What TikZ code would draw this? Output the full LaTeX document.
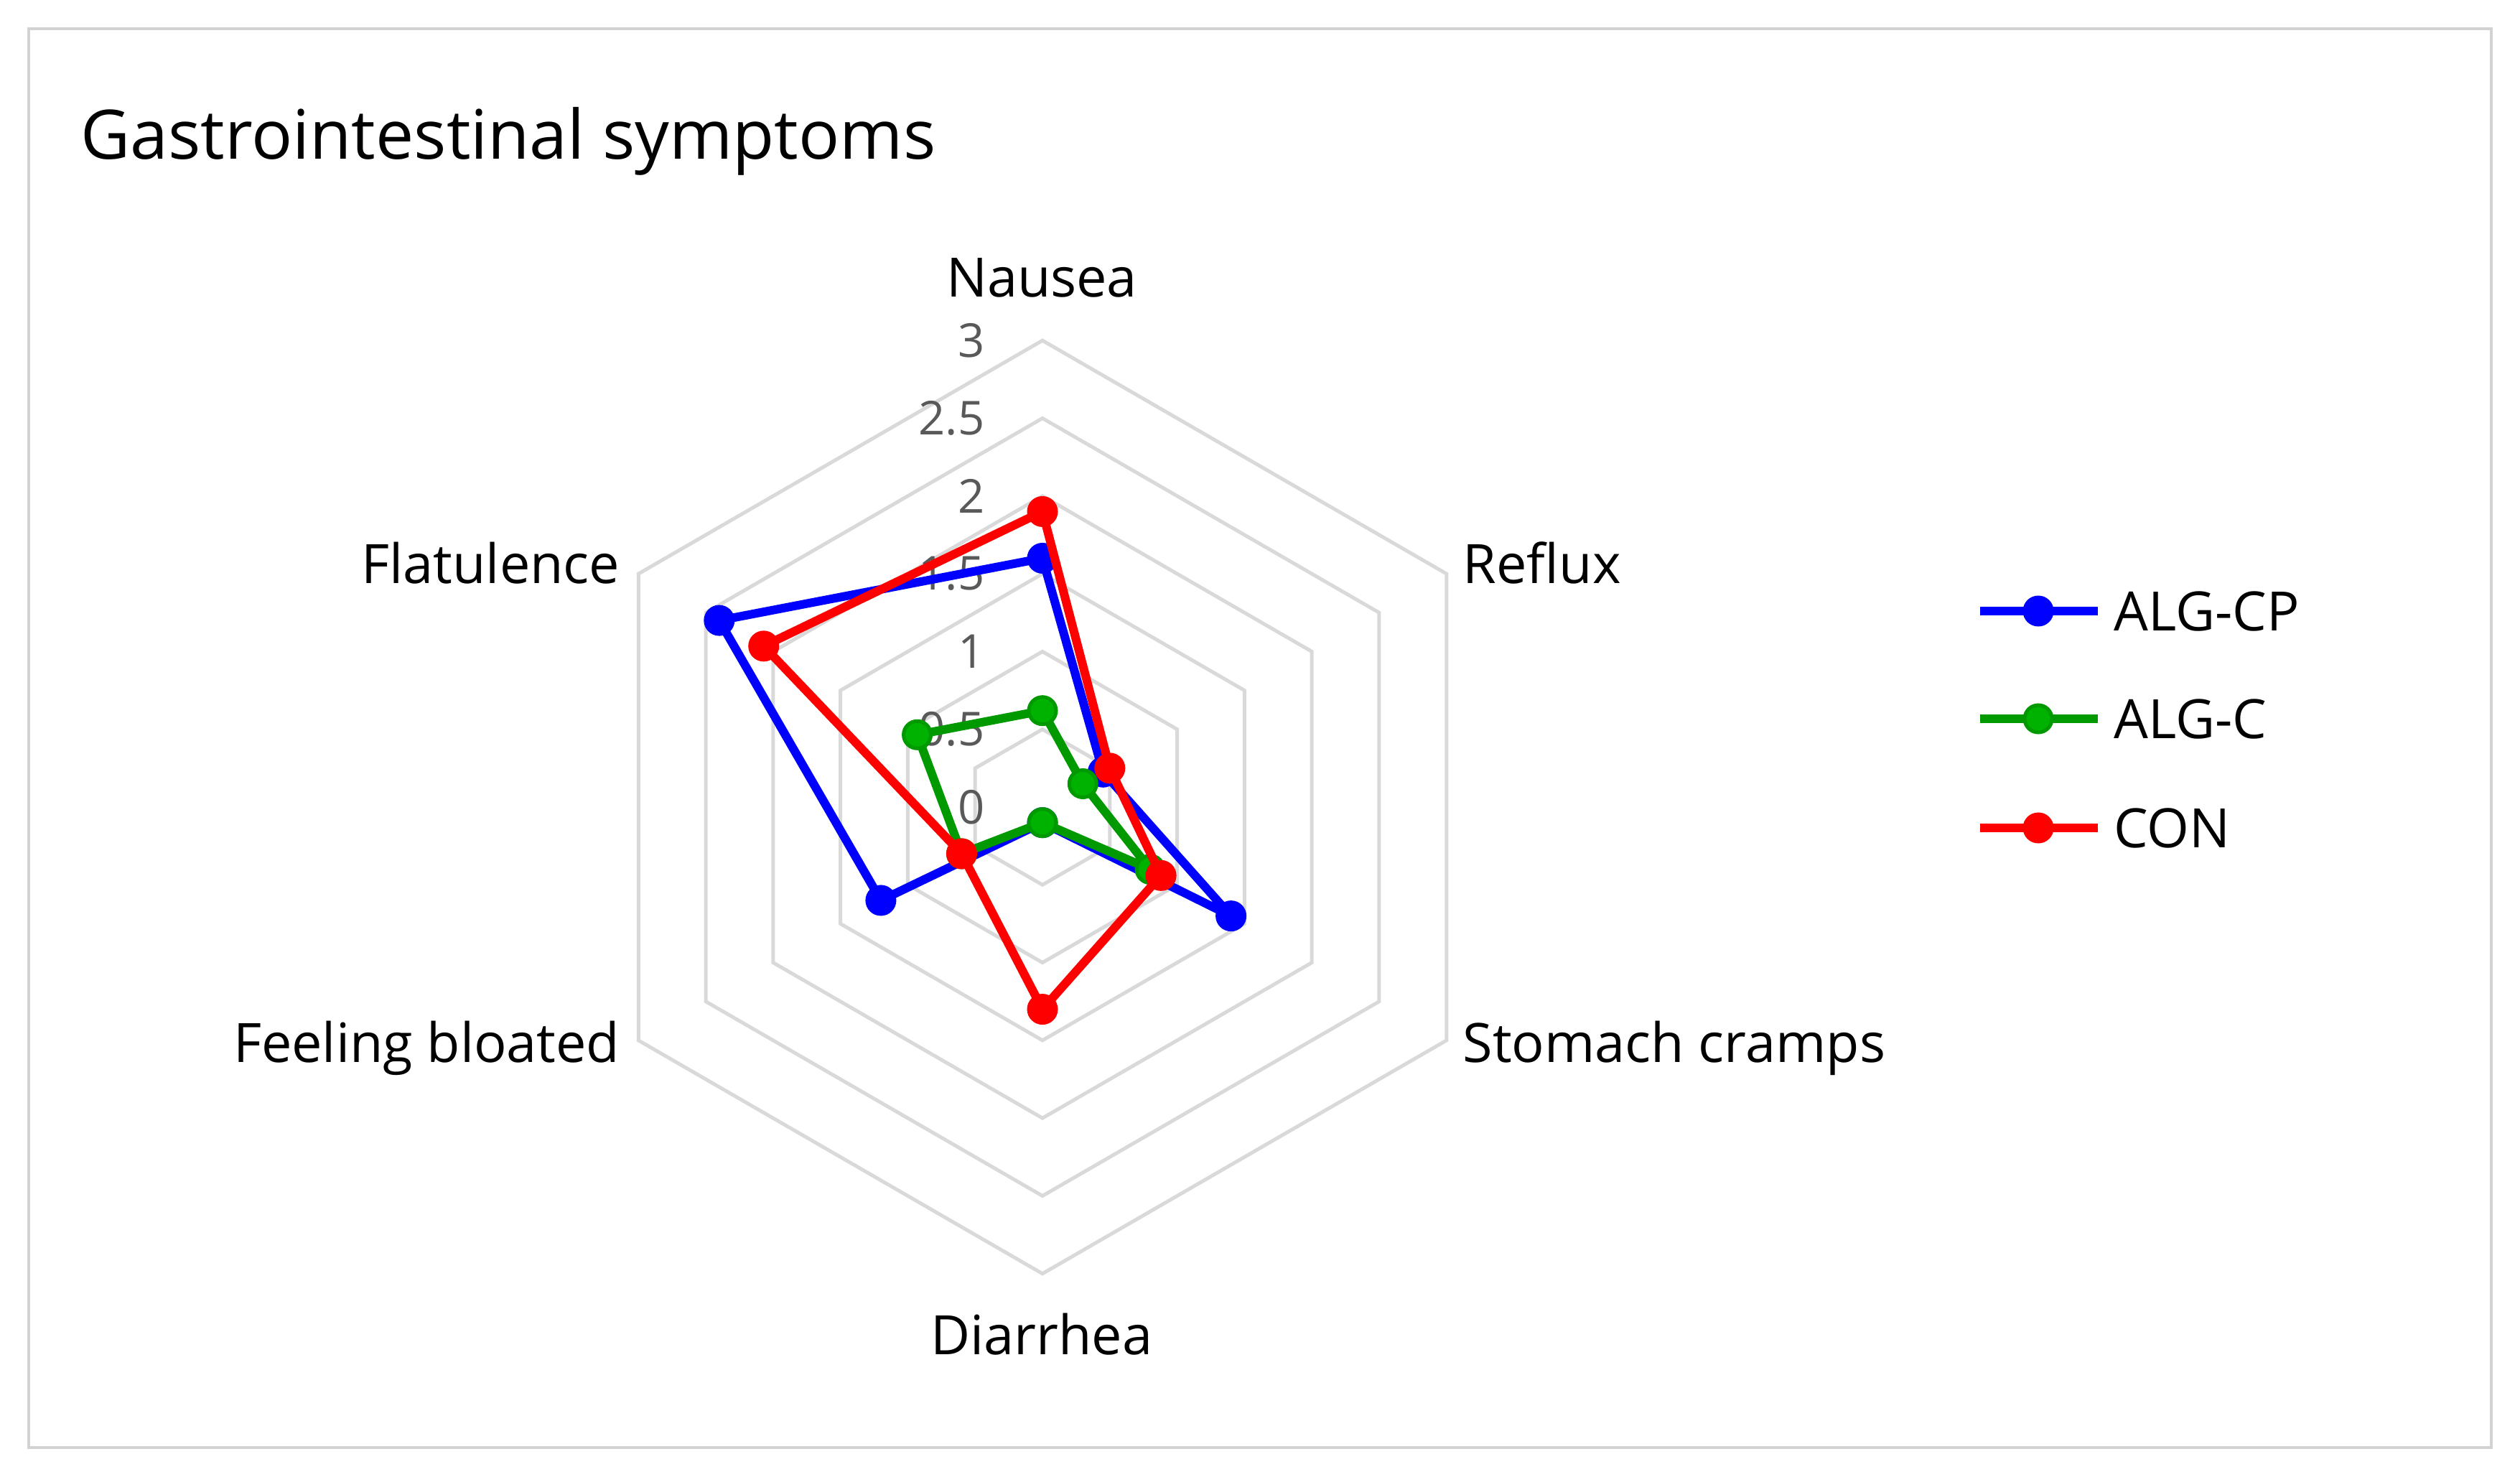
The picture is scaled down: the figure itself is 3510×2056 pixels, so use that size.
\documentclass[tikz,border=0pt]{standalone}
\usepackage{fontspec}
\setmainfont{Open Sans}
\begin{document}
\begin{tikzpicture}[x=0.01cm,y=0.01cm,
  gridln/.style={draw=gray!30,line width=0.05cm},
  ser/.style={line width=0.12cm,line join=round},
  tick/.style={text=black!65,font=\fontsize{18.5}{18.5}\selectfont,anchor=east,inner sep=0},
  axlab/.style={font=\fontsize{21.5}{21.5}\selectfont,inner sep=0}]
\useasboundingbox (0,0) rectangle (3510,2056);
\draw[gray!35,line width=0.04cm] (40,40) rectangle (3470,2016);
\node[anchor=west,font=\fontsize{27}{27}\selectfont,inner sep=0] (title) at (112,1859) {Gastrointestinal symptoms};
\def\U{216.6}
\begin{scope}[shift={(1452,932)}]
\foreach \v in {0.5,1,...,3.01}{
  \draw[gridln] (90:{\v*\U}) -- (30:{\v*\U}) -- (-30:{\v*\U}) -- (-90:{\v*\U}) -- (210:{\v*\U}) -- (150:{\v*\U}) -- cycle;
}
\foreach \v/\t in {0/0,0.5/0.5,1/1,1.5/1.5,2/2,2.5/2.5,3/3}{
  \node[tick] (t\v) at (-80,{\v*\U}) {\t};
}
\foreach \c/\a/\b/\cc/\d/\e/\f/\fillc in {blue/1.6/0.45/1.4/0.1/1.2/2.4/blue, green!60!black/0.62/0.3/0.8/0.1/0.6/0.93/green!70!black, red/1.9/0.5/0.88/1.3/0.6/2.07/red}{
  \draw[ser,draw=\c] (90:{\a*\U}) -- (30:{\b*\U}) -- (-30:{\cc*\U}) -- (-90:{\d*\U}) -- (210:{\e*\U}) -- (150:{\f*\U}) -- cycle;
  \foreach \ang/\val in {90/\a,30/\b,-30/\cc,-90/\d,210/\e,150/\f}{
    \fill[\fillc,draw=\c,line width=0.05cm] (\ang:{\val*\U}) circle (19);
  }
}
\end{scope}
\node[axlab] (nau) at (1451,1669) {Nausea};
\node[axlab,anchor=west] (ref) at (2037,1272) {Reflux};
\node[axlab,anchor=west] (sto) at (2037,596) {Stomach cramps};
\node[axlab] (dia) at (1451,198) {Diarrhea};
\node[axlab,anchor=east] (blo) at (864,596) {Feeling bloated};
\node[axlab,anchor=east] (fla) at (864,1272) {Flatulence};
\foreach \c/\fc/\y/\t/\n in {blue/blue/1205/ALG-CP/la, green!60!black/green!70!black/1055/ALG-C/lb, red/red/903/CON/lc}{
  \coordinate (\n a) at (2758,\y);
  \coordinate (\n b) at (2922,\y);
  \draw[ser,draw=\c] (\n a) -- (\n b);
  \fill[\fc,draw=\c,line width=0.05cm] (2839,\y) circle (19);
  \node[axlab,anchor=west] (\n t) at (2944,\y) {\t};
}
\end{tikzpicture}
\end{document}
